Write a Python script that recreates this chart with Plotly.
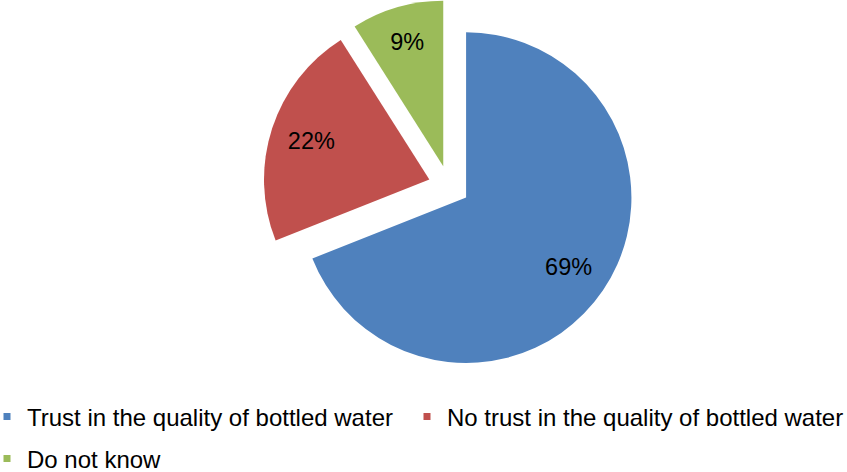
import plotly.graph_objects as go

categories = ["Trust in the quality of bottled water",
              "No trust in the quality of bottled water",
              "Do not know"]
values = [69, 22, 9]
colors = ["#4F81BD", "#C0504D", "#9BBB59"]
legend_ids = ["legend", "legend3", "legend2"]

FONT = "Liberation Sans, Arial, sans-serif"
W, H = 847, 472
cx_px, cy_px, half = 449, 186, 186
dom_x = [(cx_px - 200) / W, (cx_px + 200) / W]
dom_y = [1 - (cy_px + half) / H, 1.0]
PULL = 0.125

fig = go.Figure()

# main pie (no text)
fig.add_trace(go.Pie(
    labels=categories, values=values, sort=False, direction="clockwise",
    rotation=0, pull=PULL, marker=dict(colors=colors, line=dict(width=0)),
    textinfo="none", hoverinfo="none", showlegend=False,
    domain=dict(x=dom_x, y=dom_y),
))

# label layer (transparent ring only used to place percentage labels)
fig.add_trace(go.Pie(
    labels=categories, values=values, sort=False, direction="clockwise",
    rotation=0, pull=PULL, hole=0.5,
    marker=dict(colors=["rgba(0,0,0,0)"] * len(values), line=dict(width=0)),
    textinfo="percent", textposition="inside", insidetextorientation="horizontal",
    textfont=dict(family=FONT, size=23.5, color="black"),
    hoverinfo="none", showlegend=False,
    domain=dict(x=dom_x, y=dom_y),
))

# legend entries
for name, col, lg in zip(categories, colors, legend_ids):
    fig.add_trace(go.Scatter(
        x=[None], y=[None], mode="markers", name=name,
        marker=dict(symbol="square", size=7, color=col),
        showlegend=True, legend=lg, hoverinfo="none",
    ))

leg_common = dict(orientation="h", xref="container", yref="container",
                  xanchor="left", yanchor="middle", indentation=-13,
                  font=dict(family=FONT, size=24, color="black"),
                  bgcolor="rgba(0,0,0,0)")

fig.update_layout(
    width=W, height=H,
    margin=dict(l=0, r=0, t=0, b=0, autoexpand=False),
    paper_bgcolor="white", plot_bgcolor="white",
    font=dict(family=FONT, color="black"),
    xaxis=dict(visible=False), yaxis=dict(visible=False),
    legend=dict(x=0, y=1 - 417 / H, **leg_common),
    legend3=dict(x=(448 - 28) / W, y=1 - 417 / H, **leg_common),
    legend2=dict(x=0, y=1 - 459 / H, **leg_common),
)

fig.write_html("out.html",
               config={"displayModeBar": False},
               post_script="document.body.style.margin='0';document.body.style.overflow='hidden';")
